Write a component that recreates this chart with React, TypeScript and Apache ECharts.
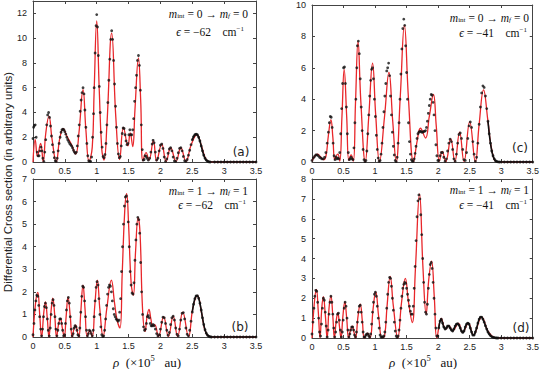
import React, { useEffect, useRef } from "react";
import * as echarts from "echarts";

// ---------- DATA (rho in 1e5 au, cross section in arbitrary units) ----------
const rhoTicks = [0, 0.5, 1, 1.5, 2, 2.5, 3, 3.5];

// panel (a): m_int=0 -> m_f=0, eps=-62
const redA = [[0,0],[0.035,1.8],[0.07,0.45],[0.12,1.5],[0.16,0.02],[0.2,2.3],[0.25,3.7],[0.3,1.8],[0.365,0.02],[0.42,1.9],[0.475,2.7],[0.53,2.1],[0.6,1.45],[0.67,0.65],[0.72,2.3],[0.785,5.85],[0.83,2.6],[0.88,0.05],[0.93,1.2],[0.96,5.8],[1.0,11.4],[1.04,5.8],[1.08,1.0],[1.115,0.15],[1.16,3.0],[1.235,10.4],[1.3,3.6],[1.36,0.2],[1.42,2.8],[1.49,1.3],[1.525,2.35],[1.565,1.25],[1.6,4.2],[1.655,8.4],[1.69,5.0],[1.725,0.1],[1.775,0.75],[1.82,0.15],[1.89,1.72],[1.94,0.1],[2.02,1.45],[2.09,0.05],[2.16,1.15],[2.245,0.05],[2.32,1.15],[2.4,0.05],[2.48,1.35],[2.57,2.2],[2.65,1.2],[2.72,0.18],[2.8,0],[3.5,0]];
const dotsA = [[0.0,1.9],[0.01,2.8],[0.02,2.95],[0.035,3.0],[0.05,2.0],[0.065,0.8],[0.08,0.5],[0.095,0.5],[0.11,0.9],[0.125,1.2],[0.14,0.9],[0.155,0.3],[0.17,0.05],[0.185,0.8],[0.2,1.8],[0.215,3.0],[0.23,3.8],[0.245,4.0],[0.26,3.6],[0.275,2.9],[0.29,2.1],[0.305,1.4],[0.32,0.8],[0.335,0.35],[0.35,0.1],[0.365,0.05],[0.38,0.3],[0.395,0.9],[0.41,1.5],[0.425,2.0],[0.44,2.4],[0.455,2.6],[0.47,2.65],[0.485,2.6],[0.5,2.45],[0.515,2.25],[0.53,2.0],[0.545,1.8],[0.56,1.65],[0.575,1.5],[0.59,1.4],[0.605,1.3],[0.62,1.15],[0.635,0.95],[0.65,0.8],[0.665,0.7],[0.68,0.8],[0.695,1.3],[0.71,2.1],[0.725,3.0],[0.74,4.1],[0.755,5.0],[0.77,5.6],[0.785,6.0],[0.8,5.5],[0.815,4.2],[0.83,2.8],[0.845,1.5],[0.86,0.5],[0.875,0.1],[0.89,0.05],[0.905,0.05],[0.92,0.4],[0.935,2.0],[0.95,3.9],[0.96,6.0],[0.975,8.8],[0.99,11.0],[1.0,11.9],[1.012,10.9],[1.025,8.6],[1.04,6.1],[1.055,4.0],[1.07,2.4],[1.085,1.2],[1.1,0.45],[1.115,0.35],[1.13,0.6],[1.145,1.5],[1.16,3.0],[1.175,4.8],[1.19,6.6],[1.205,8.3],[1.22,9.9],[1.235,10.6],[1.25,9.9],[1.265,8.2],[1.28,6.3],[1.295,4.5],[1.31,2.8],[1.325,1.5],[1.34,0.65],[1.355,0.35],[1.37,0.45],[1.385,1.3],[1.4,2.3],[1.415,2.75],[1.43,2.7],[1.445,2.2],[1.46,1.7],[1.475,1.4],[1.49,1.5],[1.505,2.2],[1.52,2.6],[1.535,2.2],[1.55,2.2],[1.565,2.6],[1.58,3.5],[1.595,4.9],[1.61,6.0],[1.625,7.0],[1.64,8.2],[1.655,8.6],[1.67,7.8],[1.685,5.8],[1.7,3.0],[1.715,1.0],[1.73,0.15],[1.745,0.2],[1.76,0.5],[1.775,0.45],[1.79,0.3],[1.81,0.15],[1.83,0.3],[1.85,0.8],[1.87,1.45],[1.885,1.75],[1.9,1.55],[1.92,0.8],[1.94,0.15],[1.96,0.3],[1.98,0.9],[2.0,1.35],[2.02,1.45],[2.04,1.1],[2.06,0.4],[2.08,0.05],[2.1,0.25],[2.12,0.7],[2.14,1.05],[2.16,1.15],[2.18,0.9],[2.2,0.4],[2.22,0.08],[2.24,0.05],[2.26,0.3],[2.28,0.75],[2.3,1.1],[2.32,1.15],[2.34,0.9],[2.36,0.45],[2.38,0.1],[2.4,0.05],[2.42,0.2],[2.44,0.55],[2.46,0.95],[2.48,1.4],[2.5,1.8],[2.52,2.05],[2.54,2.2],[2.56,2.25],[2.58,2.2],[2.6,2.0],[2.62,1.7],[2.64,1.3],[2.66,0.9],[2.68,0.55],[2.7,0.3],[2.72,0.15],[2.74,0.06],[2.76,0.02],[2.78,0],[2.85,0],[2.9,0],[2.95,0],[3.0,0],[3.05,0],[3.1,0],[3.15,0],[3.2,0],[3.25,0],[3.3,0],[3.35,0],[3.4,0],[3.45,0],[3.5,0]];

// panel (b): m_int=1 -> m_f=1, eps=-62
const redB = [[0,0],[0.04,1.5],[0.075,1.98],[0.105,1.0],[0.135,0],[0.17,1.1],[0.195,1.55],[0.225,0.8],[0.25,0],[0.285,1.2],[0.31,1.72],[0.34,1.0],[0.37,0],[0.4,0.55],[0.43,0.82],[0.46,0.4],[0.49,0],[0.52,0.9],[0.55,1.77],[0.585,0.9],[0.615,0],[0.645,0.38],[0.67,0.53],[0.695,0.25],[0.72,0],[0.75,1.1],[0.785,2.3],[0.815,1.3],[0.85,0.02],[0.89,0.28],[0.93,0.02],[0.97,1.4],[1.01,2.52],[1.05,1.2],[1.1,0.02],[1.16,1.3],[1.23,2.52],[1.28,1.5],[1.32,0.75],[1.365,0.4],[1.4,2.8],[1.44,5.6],[1.47,6.35],[1.5,5.0],[1.54,2.4],[1.575,1.85],[1.61,3.8],[1.65,5.3],[1.68,4.6],[1.72,1.2],[1.76,0.25],[1.79,0.9],[1.82,1.22],[1.85,0.8],[1.88,0.48],[1.91,0.55],[1.97,0.02],[2.05,0.9],[2.125,0.02],[2.2,0.92],[2.27,0.02],[2.35,1.1],[2.44,0.02],[2.51,1.3],[2.58,1.83],[2.65,1.0],[2.72,0.15],[2.82,0],[3.5,0]];
const dotsB = [[0,0.1],[0.015,0.6],[0.03,1.2],[0.045,1.6],[0.06,1.85],[0.075,1.8],[0.09,1.4],[0.105,0.9],[0.12,0.35],[0.135,0.05],[0.15,0.35],[0.165,0.9],[0.18,1.35],[0.195,1.5],[0.21,1.3],[0.225,0.8],[0.24,0.3],[0.255,0.05],[0.27,0.4],[0.285,1.0],[0.3,1.5],[0.315,1.65],[0.33,1.4],[0.345,0.9],[0.36,0.35],[0.375,0.05],[0.39,0.3],[0.405,0.6],[0.42,0.8],[0.435,0.8],[0.45,0.6],[0.465,0.3],[0.48,0.05],[0.495,0.1],[0.51,0.6],[0.525,1.2],[0.54,1.6],[0.555,1.75],[0.57,1.5],[0.585,0.9],[0.6,0.35],[0.615,0.05],[0.63,0.15],[0.645,0.4],[0.66,0.5],[0.675,0.45],[0.69,0.3],[0.705,0.1],[0.72,0.05],[0.735,0.4],[0.75,1.1],[0.765,1.8],[0.78,2.25],[0.795,2.2],[0.81,1.6],[0.825,0.9],[0.84,0.3],[0.855,0.05],[0.87,0.15],[0.885,0.3],[0.9,0.25],[0.915,0.15],[0.93,0.05],[0.945,0.3],[0.96,0.9],[0.975,1.6],[0.99,2.2],[1.005,2.45],[1.02,2.3],[1.035,1.7],[1.05,1.0],[1.065,0.45],[1.08,0.1],[1.095,0.02],[1.11,0.05],[1.125,0.3],[1.14,0.8],[1.155,1.4],[1.17,1.9],[1.185,2.2],[1.2,2.3],[1.215,2.25],[1.23,2.0],[1.245,1.6],[1.26,1.25],[1.275,1.0],[1.29,0.9],[1.305,0.8],[1.32,0.75],[1.335,0.7],[1.35,0.75],[1.36,1.1],[1.375,1.7],[1.39,2.9],[1.405,4.0],[1.42,5.0],[1.435,5.8],[1.45,6.2],[1.465,6.25],[1.48,6.0],[1.495,5.1],[1.51,4.0],[1.525,2.9],[1.54,2.3],[1.555,1.95],[1.57,1.9],[1.585,2.4],[1.6,3.4],[1.615,4.3],[1.63,5.0],[1.645,5.3],[1.66,5.2],[1.675,4.6],[1.69,3.3],[1.705,2.0],[1.72,1.0],[1.735,0.45],[1.75,0.3],[1.765,0.35],[1.78,0.6],[1.795,0.9],[1.81,0.95],[1.825,0.85],[1.84,0.6],[1.855,0.5],[1.87,0.5],[1.885,0.55],[1.9,0.5],[1.92,0.35],[1.94,0.15],[1.96,0.05],[1.98,0.1],[2.0,0.35],[2.02,0.65],[2.04,0.88],[2.06,0.85],[2.08,0.6],[2.1,0.3],[2.12,0.08],[2.14,0.2],[2.16,0.55],[2.18,0.85],[2.2,0.92],[2.22,0.75],[2.24,0.4],[2.26,0.12],[2.28,0.05],[2.3,0.35],[2.32,0.75],[2.34,1.05],[2.36,1.08],[2.38,0.8],[2.4,0.4],[2.42,0.12],[2.44,0.05],[2.46,0.3],[2.48,0.7],[2.5,1.1],[2.52,1.45],[2.54,1.7],[2.56,1.82],[2.58,1.83],[2.6,1.72],[2.62,1.5],[2.64,1.2],[2.66,0.85],[2.68,0.55],[2.7,0.32],[2.72,0.17],[2.74,0.08],[2.76,0.03],[2.78,0.01],[2.8,0],[2.85,0],[2.9,0],[2.95,0],[3.0,0],[3.05,0],[3.1,0],[3.15,0],[3.2,0],[3.25,0],[3.3,0],[3.35,0],[3.4,0],[3.45,0],[3.5,0]];

// panel (c): m_int=0 -> m_f=0, eps=-41
const redC = [[0,0.05],[0.04,0.35],[0.085,0.5],[0.13,0.35],[0.18,0.15],[0.22,0.35],[0.26,1.7],[0.3,2.7],[0.33,1.6],[0.36,0.15],[0.385,0.4],[0.41,0.5],[0.44,0.05],[0.475,2.9],[0.51,5.9],[0.55,2.9],[0.585,0.1],[0.62,0.45],[0.655,0.05],[0.69,3.8],[0.73,7.7],[0.775,3.8],[0.845,0.02],[0.9,2.9],[0.96,6.3],[1.01,3.0],[1.07,0.02],[1.15,2.9],[1.22,5.7],[1.28,2.6],[1.335,0.02],[1.4,4.2],[1.465,8.7],[1.53,4.0],[1.61,0.02],[1.67,1.4],[1.72,2.15],[1.8,1.53],[1.86,2.9],[1.925,4.3],[1.97,2.3],[2.02,0.05],[2.065,0.68],[2.12,0.02],[2.2,1.47],[2.265,0.02],[2.34,1.9],[2.41,0.02],[2.5,2.55],[2.59,0.02],[2.65,2.4],[2.72,4.6],[2.79,2.6],[2.86,0.6],[2.95,0],[3.5,0]];
const dotsC = [[0,0.1],[0.02,0.25],[0.04,0.35],[0.06,0.45],[0.08,0.45],[0.1,0.4],[0.12,0.3],[0.14,0.25],[0.16,0.2],[0.18,0.2],[0.2,0.3],[0.22,0.6],[0.24,1.2],[0.26,1.9],[0.275,2.5],[0.29,2.9],[0.305,2.85],[0.32,2.2],[0.335,1.2],[0.35,0.4],[0.365,0.15],[0.38,0.3],[0.395,0.2],[0.41,0.25],[0.425,0.2],[0.44,0.6],[0.455,1.8],[0.47,3.4],[0.485,5.0],[0.5,6.0],[0.515,6.05],[0.53,5.0],[0.545,3.5],[0.56,1.8],[0.575,0.6],[0.59,0.15],[0.605,0.2],[0.62,0.3],[0.635,0.2],[0.65,0.15],[0.665,0.9],[0.68,2.5],[0.695,4.0],[0.71,6.0],[0.72,7.4],[0.735,7.7],[0.75,6.9],[0.765,5.3],[0.78,3.5],[0.795,2.0],[0.81,0.8],[0.825,0.15],[0.84,0.02],[0.855,0.1],[0.87,0.7],[0.885,1.8],[0.9,3.0],[0.915,4.2],[0.93,5.2],[0.945,5.9],[0.96,6.0],[0.975,5.3],[0.99,4.0],[1.005,2.9],[1.02,1.7],[1.035,0.8],[1.05,0.25],[1.065,0.05],[1.08,0.1],[1.095,0.5],[1.11,1.2],[1.125,2.2],[1.14,3.2],[1.155,4.2],[1.17,5.0],[1.185,5.8],[1.2,6.0],[1.215,6.3],[1.23,5.5],[1.245,4.2],[1.26,3.0],[1.275,1.9],[1.29,1.0],[1.305,0.45],[1.32,0.1],[1.335,0.02],[1.35,0.3],[1.365,1.2],[1.38,2.5],[1.395,4.0],[1.41,5.6],[1.425,7.2],[1.44,8.5],[1.455,9.1],[1.47,8.7],[1.485,7.4],[1.5,5.7],[1.515,4.0],[1.53,2.5],[1.545,1.3],[1.56,0.5],[1.575,0.15],[1.59,0.05],[1.605,0.05],[1.62,0.2],[1.635,0.55],[1.65,1.0],[1.665,1.5],[1.68,1.8],[1.695,1.9],[1.71,1.95],[1.725,1.95],[1.74,1.9],[1.755,1.9],[1.77,1.95],[1.785,1.95],[1.8,2.0],[1.815,2.2],[1.83,2.6],[1.845,3.1],[1.86,3.6],[1.875,4.0],[1.89,4.3],[1.905,4.25],[1.92,3.8],[1.935,3.0],[1.95,2.0],[1.965,1.1],[1.98,0.4],[1.995,0.1],[2.01,0.1],[2.03,0.4],[2.05,0.6],[2.07,0.6],[2.09,0.3],[2.11,0.05],[2.13,0.2],[2.15,0.7],[2.17,1.2],[2.19,1.45],[2.21,1.3],[2.23,0.8],[2.25,0.2],[2.27,0.05],[2.29,0.5],[2.31,1.2],[2.33,1.75],[2.35,1.85],[2.37,1.5],[2.39,0.8],[2.41,0.15],[2.43,0.1],[2.45,0.6],[2.47,1.5],[2.49,2.3],[2.51,2.55],[2.53,2.2],[2.55,1.3],[2.57,0.5],[2.59,0.05],[2.61,0.3],[2.63,1.2],[2.65,2.4],[2.67,3.5],[2.69,4.4],[2.71,4.85],[2.73,4.75],[2.75,4.2],[2.77,3.4],[2.79,2.6],[2.81,1.8],[2.83,1.2],[2.85,0.7],[2.87,0.4],[2.89,0.2],[2.91,0.08],[2.93,0.03],[2.95,0.01],[2.97,0],[3.0,0],[3.05,0],[3.1,0],[3.15,0],[3.2,0],[3.25,0],[3.3,0],[3.35,0],[3.4,0],[3.45,0],[3.5,0]];

// panel (d): m_int=1 -> m_f=1, eps=-41
const redD = [[0,0],[0.035,1.7],[0.07,2.45],[0.1,1.3],[0.127,0],[0.155,1.5],[0.18,2.08],[0.21,1.2],[0.24,0],[0.27,1.5],[0.3,2.12],[0.33,1.1],[0.355,0],[0.385,0.9],[0.41,1.28],[0.435,0.6],[0.46,0],[0.49,1.1],[0.52,1.82],[0.55,1.0],[0.58,0],[0.61,0.4],[0.64,0.6],[0.665,0.3],[0.69,0],[0.73,1.1],[0.765,1.7],[0.8,0.8],[0.83,0],[0.88,0.25],[0.92,0],[0.97,1.5],[1.01,2.32],[1.06,1.0],[1.11,0.02],[1.15,0.08],[1.19,1.6],[1.24,3.1],[1.29,1.6],[1.36,0],[1.42,1.8],[1.48,3.0],[1.53,1.8],[1.59,0.78],[1.64,3.5],[1.705,7.25],[1.76,3.5],[1.81,1.2],[1.85,2.9],[1.895,3.87],[1.94,2.0],[1.98,0],[2.05,0.98],[2.12,0.45],[2.17,0.62],[2.23,0.37],[2.32,0.73],[2.39,0.28],[2.48,0.75],[2.56,0.15],[2.69,1.05],[2.8,0.3],[2.94,0],[3.5,0]];
const dotsD = [[0,0.2],[0.015,0.8],[0.03,1.5],[0.045,2.1],[0.06,2.4],[0.075,2.35],[0.09,1.8],[0.105,1.0],[0.12,0.3],[0.135,0.1],[0.15,0.7],[0.165,1.5],[0.18,2.0],[0.195,1.9],[0.21,1.3],[0.225,0.6],[0.24,0.05],[0.255,0.4],[0.27,1.2],[0.285,1.8],[0.3,2.1],[0.315,1.8],[0.33,1.2],[0.345,0.5],[0.36,0.05],[0.375,0.3],[0.39,0.8],[0.405,1.2],[0.42,1.25],[0.435,0.9],[0.45,0.4],[0.465,0.05],[0.48,0.3],[0.495,0.9],[0.51,1.5],[0.525,1.8],[0.54,1.6],[0.555,1.0],[0.57,0.4],[0.585,0.05],[0.6,0.2],[0.615,0.4],[0.63,0.55],[0.645,0.55],[0.66,0.4],[0.675,0.15],[0.69,0.05],[0.705,0.3],[0.72,0.8],[0.735,1.3],[0.75,1.6],[0.765,1.65],[0.78,1.3],[0.795,0.8],[0.81,0.3],[0.825,0.05],[0.84,0.05],[0.855,0.15],[0.87,0.2],[0.885,0.2],[0.9,0.1],[0.915,0.05],[0.93,0.2],[0.945,0.7],[0.96,1.3],[0.975,1.8],[0.99,2.2],[1.005,2.3],[1.02,2.1],[1.035,1.6],[1.05,1.0],[1.065,0.5],[1.08,0.15],[1.095,0.05],[1.11,0.05],[1.125,0.05],[1.14,0.1],[1.155,0.3],[1.17,0.8],[1.185,1.5],[1.2,2.2],[1.215,2.8],[1.23,3.05],[1.245,3.0],[1.26,2.6],[1.275,2.0],[1.29,1.4],[1.305,0.8],[1.32,0.35],[1.335,0.1],[1.35,0.02],[1.365,0.1],[1.38,0.4],[1.395,0.9],[1.41,1.5],[1.425,2.1],[1.44,2.5],[1.455,2.7],[1.47,2.8],[1.485,2.75],[1.5,2.5],[1.515,2.2],[1.53,1.9],[1.545,1.6],[1.56,1.35],[1.575,1.2],[1.59,1.2],[1.605,1.6],[1.62,2.5],[1.635,3.6],[1.65,4.9],[1.665,6.1],[1.68,6.9],[1.695,7.2],[1.71,7.0],[1.725,6.2],[1.74,5.2],[1.755,4.0],[1.77,2.8],[1.785,1.8],[1.8,1.3],[1.815,1.2],[1.83,1.7],[1.845,2.5],[1.86,3.2],[1.875,3.7],[1.89,3.8],[1.905,3.5],[1.92,2.8],[1.935,2.0],[1.95,1.2],[1.965,0.5],[1.98,0.1],[1.995,0.1],[2.01,0.5],[2.03,0.85],[2.05,0.95],[2.07,0.75],[2.09,0.55],[2.11,0.45],[2.13,0.5],[2.15,0.6],[2.17,0.6],[2.19,0.5],[2.21,0.4],[2.23,0.35],[2.25,0.45],[2.27,0.6],[2.29,0.7],[2.31,0.72],[2.33,0.65],[2.35,0.5],[2.37,0.35],[2.39,0.28],[2.41,0.35],[2.43,0.55],[2.45,0.7],[2.47,0.75],[2.49,0.7],[2.51,0.5],[2.53,0.3],[2.55,0.15],[2.57,0.15],[2.59,0.3],[2.61,0.5],[2.63,0.75],[2.65,0.95],[2.67,1.05],[2.69,1.05],[2.71,0.95],[2.73,0.8],[2.75,0.62],[2.77,0.45],[2.79,0.3],[2.81,0.2],[2.83,0.12],[2.85,0.07],[2.87,0.04],[2.89,0.02],[2.91,0.01],[2.93,0],[2.95,0],[3.0,0],[3.05,0],[3.1,0],[3.15,0],[3.2,0],[3.25,0],[3.3,0],[3.35,0],[3.4,0],[3.45,0],[3.5,0]];

const panelLetters = ["(a)", "(b)", "(c)", "(d)"];
const initialM = ["0", "1", "0", "1"];
const finalM = ["0", "1", "0", "1"];
const energies = ["−62", "−62", "−41", "−41"];
const yMax = [13, 7, 10, 8];
const yStep = [2, 1, 2, 1];
const yTitle = "Differential Cross section (in arbitrary units)";

// ---------- LAYOUT ----------
const grids = [
  { left: 33, top: 1, width: 223, height: 161 },
  { left: 33, top: 179, width: 223, height: 158 },
  { left: 312, top: 5, width: 221, height: 157 },
  { left: 312, top: 179, width: 221, height: 159 },
];
const denseFrom = [2.5, 2.5, 2.78, 2.0];
const annot = [
  { x1: 248, y1: 14, x2: 244, y2: 32 },
  { x1: 248, y1: 190.5, x2: 246, y2: 205 },
  { x1: 529, y1: 18, x2: 527, y2: 33 },
  { x1: 529, y1: 190, x2: 527, y2: 205 },
];
const letterPos = [
  [241, 152],
  [240, 327],
  [520, 148],
  [521, 328],
];

const FRAME = "#444";
const SANS = "Liberation Sans, Arial, sans-serif";
const SERIF = "'Liberation Serif', 'DejaVu Serif', serif";

type Piece = { t: string; size: number; italic?: boolean; dy?: number };

export default function App() {
  const ref = useRef<HTMLDivElement>(null);
  useEffect(() => {
    if (!ref.current) return;
    const chart = echarts.init(ref.current, null, { renderer: "svg" });
    const ctx = document.createElement("canvas").getContext("2d")!;
    const fontOf = (p: Piece) => `${p.italic ? "italic " : ""}${p.size}px ${SERIF}`;
    const widthOf = (p: Piece) => {
      ctx.font = fontOf(p);
      return ctx.measureText(p.t).width;
    };
    // lay out a math-like line from pieces; anchor: 'right' or 'center'
    const mathLine = (x: number, y: number, pieces: Piece[], anchor: "right" | "center") => {
      const total = pieces.reduce((s, p) => s + widthOf(p), 0);
      let cx = anchor === "right" ? x - total : x - total / 2;
      const out: any[] = [];
      pieces.forEach((p) => {
        out.push({
          type: "text", x: cx, y: y + (p.dy || 0),
          style: { text: p.t, font: fontOf(p), fill: "#111", align: "left", verticalAlign: "middle" },
        });
        cx += widthOf(p);
      });
      return out;
    };

    const all = [
      { red: redA, dots: dotsA },
      { red: redB, dots: dotsB },
      { red: redC, dots: dotsC },
      { red: redD, dots: dotsD },
    ];
    const xAxis: any[] = [];
    const yAxis: any[] = [];
    const series: any[] = [];
    let graphic: any[] = [];
    grids.forEach((g, i) => {
      const tick = { show: true, inside: true, length: 3, lineStyle: { color: FRAME, width: 1 } };
      const line = { show: true, onZero: false, lineStyle: { color: FRAME, width: 1 } };
      xAxis.push({
        gridIndex: i, type: "value", min: rhoTicks[0], max: rhoTicks[rhoTicks.length - 1], interval: 0.5,
        axisLine: line, axisTick: tick, splitLine: { show: false },
        axisLabel: { fontSize: 9, color: "#222", margin: 4, fontFamily: SANS },
      });
      xAxis.push({
        gridIndex: i, type: "value", position: "top", min: 0, max: 3.5, interval: 0.5,
        axisLine: line, axisTick: tick, splitLine: { show: false }, axisLabel: { show: false },
      });
      yAxis.push({
        gridIndex: i, type: "value", min: 0, max: yMax[i], interval: yStep[i],
        axisLine: line, axisTick: tick, splitLine: { show: false },
        axisLabel: { fontSize: 9, color: "#222", margin: 6, fontFamily: SANS, showMaxLabel: yMax[i] % yStep[i] === 0 },
      });
      yAxis.push({
        gridIndex: i, type: "value", position: "right", min: 0, max: yMax[i], interval: yStep[i],
        axisLine: line, axisTick: tick, splitLine: { show: false }, axisLabel: { show: false },
      });
      const d = all[i];
      series.push({
        type: "line", xAxisIndex: 2 * i, yAxisIndex: 2 * i, data: d.red, smooth: 0.45,
        showSymbol: false, symbol: "none", lineStyle: { color: "#e8262a", width: 1.3 }, z: 2,
      });
      series.push({
        type: "line", xAxisIndex: 2 * i, yAxisIndex: 2 * i,
        data: d.dots.filter((p) => p[0] >= denseFrom[i]), smooth: 0.3,
        showSymbol: false, symbol: "none", lineStyle: { color: "#111", width: 1.6 }, z: 3,
      });
      series.push({
        type: "scatter", xAxisIndex: 2 * i, yAxisIndex: 2 * i, data: d.dots,
        symbol: "circle", symbolSize: 2.8, itemStyle: { color: "#111" }, z: 4,
      });
      const a = annot[i];
      graphic = graphic.concat(
        mathLine(a.x1, a.y1, [
          { t: "m", size: 11.5, italic: true },
          { t: "int", size: 7, dy: 2.3 },
          { t: ` = ${initialM[i]} → `, size: 11.5 },
          { t: "m", size: 11.5, italic: true },
          { t: "f", size: 7, italic: true, dy: 2.3 },
          { t: ` = ${finalM[i]}`, size: 11.5 },
        ], "right"),
      );
      graphic = graphic.concat(
        mathLine(a.x2, a.y2, [
          { t: "ϵ", size: 11.5, italic: true },
          { t: ` = ${energies[i]}    cm`, size: 11.5 },
          { t: "−1", size: 7, dy: -3 },
        ], "right"),
      );
      graphic.push({
        type: "text", x: letterPos[i][0], y: letterPos[i][1],
        style: { text: panelLetters[i], align: "center", verticalAlign: "middle", font: `12px DejaVu Sans`, fill: "#222" },
      });
    });
    [147, 423].forEach((cx) => {
      graphic = graphic.concat(
        mathLine(cx, 362, [
          { t: "ρ", size: 13, italic: true },
          { t: "  (×10", size: 13 },
          { t: "5", size: 8.5, dy: -4 },
          { t: "   au)", size: 13 },
        ], "center"),
      );
    });
    graphic.push({
      type: "text", x: 8, y: 182, rotation: Math.PI / 2,
      style: { text: yTitle, align: "center", verticalAlign: "middle", font: `11.5px ${SANS}`, fill: "#222" },
    });
    chart.setOption({
      animation: false,
      grid: grids.map((g) => ({ ...g, containLabel: false })),
      xAxis, yAxis, series, graphic,
    });
    return () => chart.dispose();
  }, []);
  return <div ref={ref} style={{ position: "fixed", left: 0, top: 0, width: 542, height: 369, background: "#fff" }} />;
}
